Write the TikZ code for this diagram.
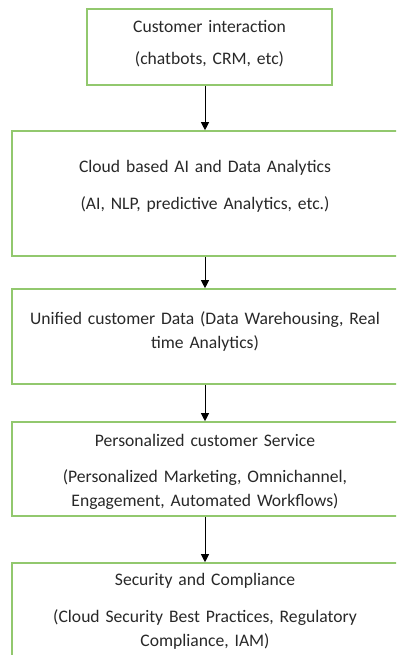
\documentclass[tikz,border=0pt]{standalone}
\usepackage{fontspec}
\setmainfont{Carlito}
\usetikzlibrary{positioning,arrows.meta}

\definecolor{boxgreen}{RGB}{146,200,110}
\definecolor{textgray}{RGB}{40,40,40}

\tikzset{
  stagebox/.style={draw=boxgreen, line width=1.6pt, inner sep=0pt},
  stagetext/.style={text=textgray, align=center, text width=380pt, inner sep=0pt,
    font=\fontsize{17.6}{24}\selectfont},
  flow/.style={-{Triangle[width=8pt,length=8pt]}, line width=0.9pt, black},
}

\begin{document}
\begin{tikzpicture}[x=1pt,y=1pt]
  \useasboundingbox (0,0) rectangle (396,-655);
  \clip (0,0) rectangle (396,-655);
  %boxes
  \node[stagebox, minimum width=245pt, minimum height=76pt] (b1) at (209.5,-47) {};
  \node[stagebox, minimum width=386pt, minimum height=125pt] (b2) at (205,-193.5) {};
  \node[stagebox, minimum width=386pt, minimum height=95pt] (b3) at (205,-336.5) {};
  \node[stagebox, minimum width=386pt, minimum height=94pt] (b4) at (205,-469) {};
  \node[stagebox, minimum width=386pt, minimum height=114pt] (b5) at (205,-620) {};
  %texts
  \node[stagetext, below=24pt of b1.north, anchor=base] (t1)
    {Customer interaction\\[8pt](chatbots, CRM, etc)};
  \node[stagetext, below=42pt of b2.north, anchor=base] (t2)
    {Cloud based AI and Data Analytics\\[13pt](AI, NLP, predictive Analytics, etc.)};
  \node[stagetext, below=36pt of b3.north, anchor=base] (t3)
    {Unified customer Data (Data Warehousing, Real\\time Analytics)};
  \node[stagetext, below=25pt of b4.north, anchor=base] (t4)
    {Personalized customer Service\\[12pt](Personalized Marketing, Omnichannel,\\Engagement, Automated Workflows)};
  \node[stagetext, below=23pt of b5.north, anchor=base] (t5)
    {Security and Compliance\\[13pt](Cloud Security Best Practices, Regulatory\\Compliance, IAM)};
  %arrows
  \draw[flow] (b1.south -| b2.north) -- (b2.north);
  \draw[flow] (b2.south) -- (b3.north);
  \draw[flow] (b3.south) -- (b4.north);
  \draw[flow] (b4.south) -- (b5.north);
\end{tikzpicture}
\end{document}
